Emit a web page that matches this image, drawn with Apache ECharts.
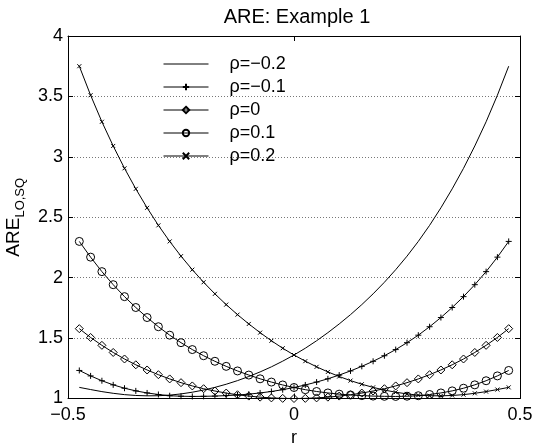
<!DOCTYPE html>
<html>
<head>
<meta charset="utf-8">
<script src="https://cdn.jsdelivr.net/npm/echarts@6/dist/echarts.min.js"></script>
<style>
  html, body { margin: 0; padding: 0; background: #fff; }
  #are { width: 548px; height: 445px; }
</style>
</head>
<body>
<div id="are"></div>
<script>
// r axis samples
var rValues = [-0.475, -0.45, -0.425, -0.4, -0.375, -0.35, -0.325, -0.3, -0.275, -0.25,
    -0.225, -0.2, -0.175, -0.15, -0.125, -0.1, -0.075, -0.05, -0.025, 0,
    0.025, 0.05, 0.075, 0.1, 0.125, 0.15, 0.175, 0.2, 0.225, 0.25,
    0.275, 0.3, 0.325, 0.35, 0.375, 0.4, 0.425, 0.45, 0.475];

// ARE values
var rhoM02 = [1.092, 1.074, 1.057, 1.043, 1.032, 1.025, 1.022, 1.023, 1.028, 1.038,
    1.052, 1.070, 1.092, 1.118, 1.148, 1.182, 1.220, 1.262, 1.309, 1.360,
    1.416, 1.478, 1.545, 1.617, 1.694, 1.777, 1.866, 1.962, 2.066, 2.178,
    2.30, 2.433, 2.578, 2.735, 2.905, 3.09, 3.29, 3.51, 3.75];
var rhoM01 = [1.232, 1.187, 1.147, 1.113, 1.085, 1.063, 1.046, 1.033, 1.023, 1.019,
    1.017, 1.018, 1.020, 1.024, 1.029, 1.036, 1.046, 1.058, 1.073, 1.091,
    1.112, 1.136, 1.163, 1.194, 1.228, 1.266, 1.308, 1.354, 1.405, 1.462,
    1.524, 1.594, 1.670, 1.753, 1.843, 1.942, 2.05, 2.17, 2.30];
var rho0 = [1.578, 1.505, 1.440, 1.381, 1.327, 1.279, 1.236, 1.197, 1.162, 1.131,
    1.104, 1.081, 1.062, 1.045, 1.031, 1.020, 1.011, 1.005, 1.001, 1.000,
    1.001, 1.005, 1.011, 1.020, 1.031, 1.045, 1.062, 1.081, 1.104, 1.131,
    1.162, 1.197, 1.236, 1.279, 1.327, 1.381, 1.440, 1.505, 1.578];
var rhoP01 = [2.30, 2.17, 2.05, 1.942, 1.843, 1.753, 1.670, 1.594, 1.524, 1.462,
    1.405, 1.354, 1.308, 1.266, 1.228, 1.194, 1.163, 1.136, 1.112, 1.091,
    1.073, 1.058, 1.046, 1.036, 1.029, 1.024, 1.020, 1.018, 1.017, 1.019,
    1.023, 1.033, 1.046, 1.063, 1.085, 1.113, 1.147, 1.187, 1.232];
var rhoP02 = [3.75, 3.51, 3.29, 3.09, 2.905, 2.735, 2.578, 2.433, 2.30, 2.178,
    2.066, 1.962, 1.866, 1.777, 1.694, 1.617, 1.545, 1.478, 1.416, 1.360,
    1.309, 1.262, 1.220, 1.182, 1.148, 1.118, 1.092, 1.070, 1.052, 1.038,
    1.028, 1.023, 1.022, 1.025, 1.032, 1.043, 1.057, 1.074, 1.092];

var seriesNames = ['ρ=−0.2', 'ρ=−0.1', 'ρ=0', 'ρ=0.1', 'ρ=0.2'];

var FONT = '"Liberation Sans", Arial, Helvetica, sans-serif';

function lineInit() {
    var dom = document.getElementById('are');
    var myChart = echarts.init(dom);

    function pairs(vals) {
        var out = [];
        for (var i = 0; i < rValues.length; i++) {
            out.push([rValues[i], vals[i]]);
        }
        return out;
    }

    function mkSeries(name, vals, symbol, size) {
        return {
            name: name,
            type: 'line',
            data: pairs(vals),
            symbol: symbol,
            symbolSize: size,
            showSymbol: symbol !== 'none',
            lineStyle: { color: '#000', width: 1 },
            itemStyle: {
                color: 'rgba(0,0,0,0)',
                borderColor: '#000',
                borderWidth: 1
            },
            emphasis: { disabled: true },
            z: 3
        };
    }

    var plus = 'path://M0,5L10,5M5,0L5,10';
    var cross = 'path://M0,0L10,10M10,0L0,10';

    // legend entries; the plain line gets no marker
    var legendData = [];
    for (var i = 0; i < seriesNames.length; i++) {
        var item = { name: seriesNames[i] };
        if (i === 0) {
            item.itemStyle = { color: 'rgba(0,0,0,0)', borderWidth: 0, borderColor: 'rgba(0,0,0,0)' };
        }
        legendData.push(item);
    }

    var option = {
        animation: false,
        color: ['#000'],
        title: {
            text: 'ARE: Example 1',
            left: 292,
            textAlign: 'center',
            top: 2,
            textStyle: { fontFamily: FONT, fontSize: 20, fontWeight: 'normal', color: '#000' }
        },
        legend: {
            orient: 'vertical',
            left: 158,
            top: 50,
            itemWidth: 45,
            itemHeight: 8,
            itemGap: 5,
            selectedMode: false,
            data: legendData,
            lineStyle: { width: 1 },
            textStyle: { fontFamily: FONT, fontSize: 18, color: '#000', padding: [0, 0, 0, 16] }
        },
        grid: { left: 68, right: 28, top: 36, bottom: 46.5, outerBoundsMode: 'none' },
        xAxis: [{
            type: 'value',
            min: -0.5, max: 0.5, interval: 0.5,
            name: 'r',
            nameLocation: 'middle',
            nameGap: 26,
            nameTextStyle: { fontFamily: FONT, fontSize: 18, color: '#000' },
            axisLine: { onZero: false, lineStyle: { color: '#000', width: 1 } },
            axisTick: { inside: true, length: 5, lineStyle: { color: '#000' } },
            axisLabel: {
                fontFamily: FONT, fontSize: 18, color: '#000', margin: 8,
                formatter: function (v) { return String(v).replace('-', '−'); }
            },
            splitLine: { show: false }
        }, {
            type: 'value', position: 'top',
            min: -0.5, max: 0.5, interval: 0.5,
            axisLine: { onZero: false, lineStyle: { color: '#000', width: 1 } },
            axisTick: { inside: true, length: 5, lineStyle: { color: '#000' } },
            axisLabel: { show: false },
            splitLine: { show: false }
        }],
        yAxis: [{
            type: 'value',
            min: 1, max: 4, interval: 0.5,
            name: '{a|ARE}{s|LO,SQ}',
            nameLocation: 'middle',
            nameGap: 31,
            nameTextStyle: {
                fontFamily: FONT, color: '#000',
                rich: {
                    a: { fontFamily: FONT, fontSize: 19, lineHeight: 26, color: '#000' },
                    s: { fontFamily: FONT, fontSize: 13, lineHeight: 13, verticalAlign: 'bottom', color: '#000' }
                }
            },
            axisLine: { onZero: false, lineStyle: { color: '#000', width: 1 } },
            axisTick: { inside: true, length: 5, lineStyle: { color: '#000' } },
            axisLabel: { fontFamily: FONT, fontSize: 18, color: '#000', margin: 5 },
            splitLine: { show: true, lineStyle: { color: '#777', width: 1, type: [1, 2] } }
        }, {
            type: 'value', position: 'right',
            min: 1, max: 4, interval: 0.5,
            axisLine: { onZero: false, lineStyle: { color: '#000', width: 1 } },
            axisTick: { inside: true, length: 5, lineStyle: { color: '#000' } },
            axisLabel: { show: false },
            splitLine: { show: false }
        }],
        series: [
            mkSeries(seriesNames[0], rhoM02, 'none', 0),
            mkSeries(seriesNames[1], rhoM01, plus, 6),
            mkSeries(seriesNames[2], rho0, 'diamond', 8),
            mkSeries(seriesNames[3], rhoP01, 'circle', 8),
            mkSeries(seriesNames[4], rhoP02, cross, 4)
        ]
    };

    if (option && typeof option === 'object') {
        myChart.setOption(option, true);
    }
}

lineInit();
</script>
</body>
</html>
